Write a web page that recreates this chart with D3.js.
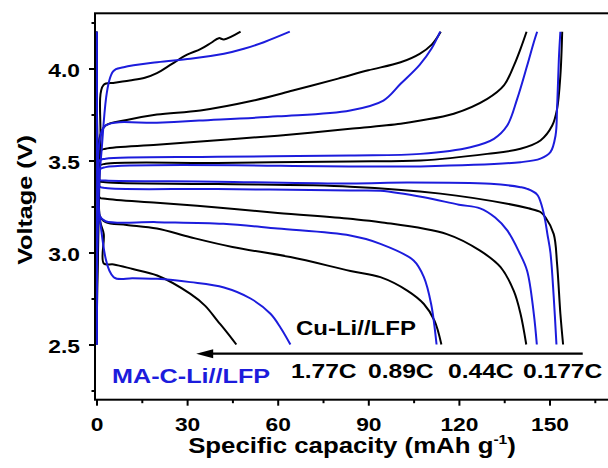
<!DOCTYPE html>
<html><head><meta charset="utf-8">
<script src="https://cdn.jsdelivr.net/npm/d3@7"></script>
<style>html,body{margin:0;padding:0;background:#fff;} svg{display:block;}</style>
</head><body>
<svg id="chart" width="608" height="468"></svg>
<script>
// ---------- data ----------
const rates = ["1.77C", "0.89C", "0.44C", "0.177C"];
const cells = ["Cu-Li//LFP", "MA-C-Li//LFP"];
const xTicks = [0, 30, 60, 90, 120, 150];
const xMinorTicks = [15, 45, 75, 105, 135, 165];
const yTicks = [2.5, 3.0, 3.5, 4.0];
const yMinorTicks = [2.25, 2.75, 3.25, 3.75, 4.25];

// Cu-Li//LFP (black): [specific capacity (mAh/g), voltage (V)]
const cuCharge_1_77C = [[0,2.55],[0.5,3.0],[1.3,3.6],[2.3,3.91],[6,3.922],[11,3.935],[16,3.95],[20,3.975],[25,4.025],[30,4.075],[34.4,4.105],[38,4.14],[40.5,4.165],[42.2,4.158],[47.7,4.2]];
const cuDischarge_1_77C = [[0,4.2],[0.3,3.6],[1.2,3.17],[2.4,3.1],[2.4,2.94],[5.7,2.935],[12,2.91],[20.1,2.875],[31.1,2.775],[36,2.71],[40,2.63],[43,2.57],[46.3,2.5]];
const cuCharge_0_89C = [[0,2.5],[0.5,3.3],[1,3.62],[3,3.69],[10,3.72],[20,3.75],[34.4,3.772],[52,3.826],[65,3.88],[80,3.945],[90,3.99],[100.7,4.034],[107,4.08],[111,4.13],[114,4.2]];
const cuDischarge_0_89C = [[0,4.2],[0.3,3.5],[1,3.2],[3,3.165],[10,3.15],[20,3.13],[31.1,3.083],[45,3.03],[64.2,2.975],[84.1,2.9],[94,2.866],[102.9,2.793],[108.4,2.72],[111.9,2.63],[114.2,2.5]];
const cuCharge_0_44C = [[0,2.5],[0.5,3.3],[1,3.55],[3,3.564],[20,3.585],[40,3.61],[60,3.635],[84,3.672],[100.7,3.7],[107.3,3.717],[118.3,3.754],[129.4,3.835],[134.9,3.908],[138.2,4.016],[140.4,4.107],[142.4,4.2]];
const cuDischarge_0_44C = [[0,4.2],[0.3,3.5],[1,3.3],[3,3.292],[20,3.27],[40,3.245],[60,3.215],[84,3.183],[94,3.165],[116,3.1],[127,3.01],[133.8,2.92],[138.2,2.79],[140.4,2.667],[142.3,2.5]];
const cuCharge_0_177C = [[0,2.5],[0.5,3.3],[1,3.47],[3,3.482],[40,3.487],[84,3.495],[107.3,3.5],[129.4,3.536],[140.4,3.564],[147,3.609],[150.9,3.69],[152.5,3.78],[153.6,3.962],[154.2,4.2]];
const cuDischarge_0_177C = [[0,4.2],[0.3,3.5],[1,3.39],[3,3.382],[40,3.372],[84,3.358],[113.9,3.32],[136,3.265],[143,3.24],[147,3.22],[148.7,3.19],[151.4,3.1],[152.5,2.94],[153.6,2.667],[154.5,2.5]];

// MA-C-Li//LFP (blue)
const maCharge_1_77C = [[0,2.5],[0.5,3.2],[1.5,3.52],[5.5,3.985],[9,4.007],[20.1,4.034],[31.1,4.053],[42.2,4.08],[48.8,4.107],[55.4,4.143],[64,4.2]];
const maDischarge_1_77C = [[0,4.19],[0.3,3.6],[1.2,3.17],[5.7,2.866],[12,2.86],[20.1,2.857],[31.1,2.839],[42.2,2.81],[51,2.75],[57.6,2.667],[61,2.59],[64.2,2.5]];
const maCharge_0_89C = [[0,2.5],[0.4,3.3],[1,3.6],[3,3.69],[20,3.705],[34,3.717],[60,3.74],[84,3.772],[95,3.826],[100.7,3.917],[107,4.02],[111,4.11],[113.8,4.2]];
const maDischarge_0_89C = [[0,4.2],[0.3,3.5],[1,3.2],[3,3.17],[20,3.165],[42,3.156],[60,3.13],[84,3.092],[94,3.047],[105,2.957],[108.4,2.866],[110.8,2.72],[112.6,2.5]];
const maCharge_0_44C = [[0,2.5],[0.4,3.3],[1,3.5],[3,3.51],[40,3.52],[84,3.527],[107.3,3.536],[123.8,3.572],[131.6,3.618],[136,3.69],[139.3,3.835],[142.6,4.016],[144.8,4.143],[145.9,4.2]];
const maDischarge_0_44C = [[0,4.2],[0.3,3.5],[1,3.36],[3,3.35],[40,3.345],[84,3.337],[94,3.335],[108.4,3.3],[120,3.26],[127,3.24],[132,3.19],[136,3.12],[140,3.0],[142.6,2.9],[144.8,2.667],[145.8,2.5]];
const maCharge_0_177C = [[0,2.5],[0.4,3.3],[1,3.45],[3,3.464],[84,3.468],[107.3,3.468],[140.4,3.491],[147,3.51],[150.3,3.545],[152,3.636],[152.5,3.78],[153.1,4.053],[153.6,4.2]];
const maDischarge_0_177C = [[0,4.2],[0.3,3.5],[1,3.395],[3,3.391],[40,3.385],[84,3.375],[102.9,3.38],[130.5,3.373],[140.4,3.355],[142.6,3.346],[145.9,3.315],[147.5,3.25],[148.5,3.18],[149.3,3.1],[150.3,3.0],[151.4,2.757],[152.3,2.5]];

const cuCurves = [cuCharge_1_77C, cuDischarge_1_77C, cuCharge_0_89C, cuDischarge_0_89C, cuCharge_0_44C, cuDischarge_0_44C, cuCharge_0_177C, cuDischarge_0_177C];
const maCurves = [maCharge_1_77C, maDischarge_1_77C, maCharge_0_89C, maDischarge_0_89C, maCharge_0_44C, maDischarge_0_44C, maCharge_0_177C, maDischarge_0_177C];

// ---------- drawing ----------
const BLACK = "#000000", BLUE = "#1c1cdc";
const FONT = "Arial, 'Liberation Sans', Helvetica, sans-serif";
const SX = 1.2; // horizontal glyph stretch seen in the reference

const svg = d3.select("#chart");
const x = d3.scaleLinear().domain([-0.5, 172]).range([95, 95 + 172.5 * 3.02]);
const y = d3.scaleLinear().domain([2.2, 4.3]).range([399.7, 13.3]);

// curves
const line = d3.line().x(d => x(d[0])).y(d => y(d[1])).curve(d3.curveCatmullRom.alpha(0.5));
const gc = svg.append("g").attr("fill", "none").attr("stroke-width", 2).attr("stroke-linejoin", "round");
gc.selectAll("path.cu").data(cuCurves).join("path").attr("class", "cu").attr("stroke", BLACK).attr("d", line);
gc.selectAll("path.ma").data(maCurves).join("path").attr("class", "ma").attr("stroke", BLUE).attr("d", line);

// frame
svg.append("rect").attr("x", x(-0.5)).attr("y", y(4.3))
  .attr("width", x(172) - x(-0.5)).attr("height", y(2.2) - y(4.3))
  .attr("fill", "none").attr("stroke", BLACK).attr("stroke-width", 2);

function styleAxis(g) {
  g.select(".domain").remove();
  g.selectAll("line").attr("stroke", BLACK).attr("stroke-width", 2);
  g.selectAll("text").attr("font-family", FONT).attr("font-size", 19).attr("font-weight", "bold")
    .attr("fill", BLACK).attr("transform", `scale(${SX},1)`);
}
// x axis
svg.append("g").attr("transform", `translate(0,${y(2.2)})`)
  .call(d3.axisBottom(x).tickValues(xTicks).tickSize(6).tickPadding(12).tickFormat(d3.format("d")))
  .call(styleAxis);
svg.append("g").attr("transform", `translate(0,${y(2.2)})`)
  .call(d3.axisBottom(x).tickValues(xMinorTicks).tickSize(3.5).tickFormat(""))
  .call(styleAxis);
// y axis
svg.append("g").attr("transform", `translate(${x(-0.5)},0)`)
  .call(d3.axisLeft(y).tickValues(yTicks).tickSize(6).tickPadding(6.5).tickFormat(d3.format(".1f")))
  .call(styleAxis)
  .selectAll("text").attr("dy", "0.4em");
svg.append("g").attr("transform", `translate(${x(-0.5)},0)`)
  .call(d3.axisLeft(y).tickValues(yMinorTicks).tickSize(3.5).tickFormat(""))
  .call(styleAxis);

// axis titles
const xt = svg.append("text").attr("transform", `translate(352,453) scale(${SX},1)`)
  .attr("text-anchor", "middle").attr("font-family", FONT).attr("font-weight", "bold")
  .attr("font-size", 21.5).attr("fill", BLACK);
xt.append("tspan").text("Specific capacity (mAh g");
xt.append("tspan").attr("font-size", 13).attr("dy", -9).text("-1");
xt.append("tspan").attr("dy", 9).text(")");

svg.append("text").attr("transform", `translate(32,200) rotate(-90) scale(${SX},1)`)
  .attr("text-anchor", "middle").attr("font-family", FONT).attr("font-weight", "bold")
  .attr("font-size", 21).attr("fill", BLACK).text("Voltage (V)");

// annotations
function label(txt, px, py, size, color) {
  svg.append("text").attr("transform", `translate(${px},${py}) scale(${SX},1)`)
    .attr("font-family", FONT).attr("font-weight", "bold").attr("font-size", size)
    .attr("fill", color).text(txt);
}
label(cells[0], 296, 335, 20, BLACK);
label(cells[1], 112, 383, 21, BLUE);
const rateX = [291, 368, 448, 523];
rates.forEach((r, i) => label(r, rateX[i], 378, 20.5, BLACK));

// arrow (high rate to the left)
const ay = y(2.45);
svg.append("line").attr("x1", x(161)).attr("x2", x(33) + 10).attr("y1", ay).attr("y2", ay)
  .attr("stroke", BLACK).attr("stroke-width", 2.2);
svg.append("path")
  .attr("d", `M${x(33)},${ay} L${x(33) + 17},${ay - 4.5} L${x(33) + 17},${ay + 4.5} Z`)
  .attr("fill", BLACK);
</script>
</body></html>
